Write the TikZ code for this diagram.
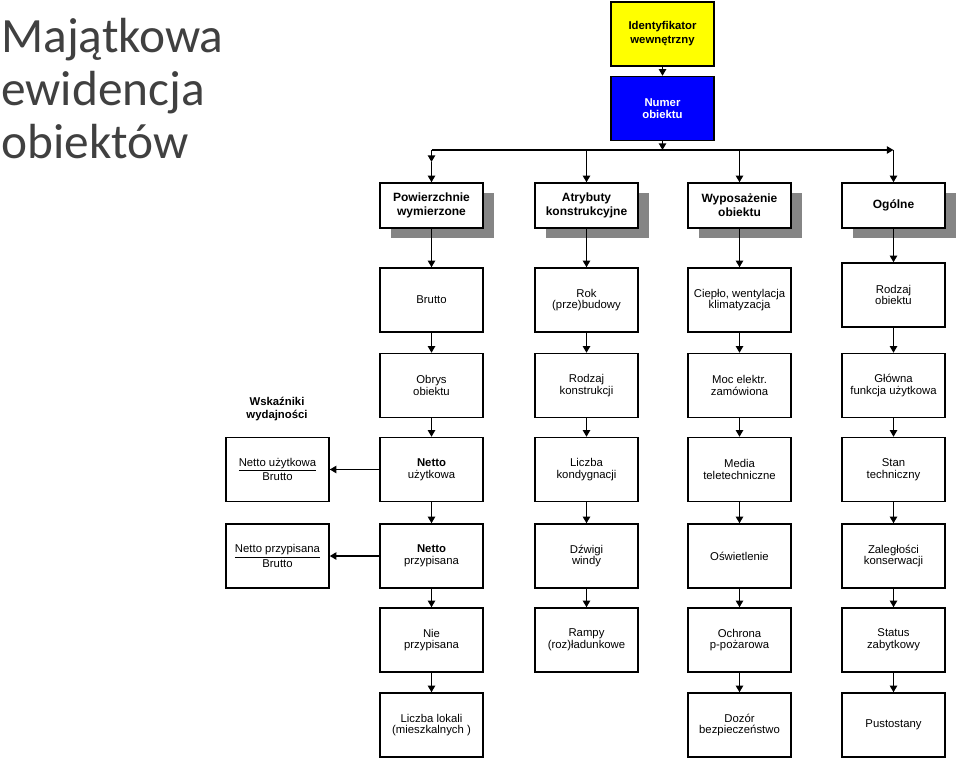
\documentclass[tikz,border=0pt]{standalone}
\usepackage{fontspec}
\setmainfont{Liberation Sans}
\newfontfamily\titlefont{Carlito}
\usetikzlibrary{arrows.meta,shadows}
\definecolor{ttl}{HTML}{404040}
\definecolor{shd}{HTML}{858585}
\definecolor{yel}{HTML}{FFFF00}
\definecolor{blu}{HTML}{0000FF}
\begin{document}
\begin{tikzpicture}[x=0.75pt,y=-0.75pt,
 box/.style={draw=black, line width=1.1pt, fill=white, minimum width=77.25pt, minimum height=48pt, align=center, inner sep=1pt, font=\fontsize{8.5}{8.8}\selectfont},
 head/.style={box, minimum height=33.75pt, font=\bfseries\fontsize{9}{10.5}\selectfont, drop shadow={shadow xshift=8.25pt, shadow yshift=-7.5pt, fill=shd, opacity=1}},
 arr/.style={line width=1.1pt, -{Triangle[length=5pt,width=5.5pt]}},
 ttlnode/.style={anchor=base west, inner sep=0pt, text=ttl, font=\titlefont\fontsize{37}{40}\selectfont}]
\useasboundingbox (0,0) rectangle (960,760);

% title
\node[ttlnode] (t1) at (1,52) {Majątkowa};
\node[ttlnode] (t2) at (1,105) {ewidencja};
\node[ttlnode] (t3) at (1,158) {obiektów};

% top
\node[box, fill=yel, font=\bfseries\fontsize{8.5}{10.5}\selectfont] (idw) at (662.5,34) {Identyfikator\\wewnętrzny};
\node[box, fill=blu, text=white, font=\bfseries\fontsize{8.5}{9.5}\selectfont] (num) at (662.5,108.5) {Numer\\obiektu};

% headers
\node[head] (h1) at (431.5,205.5) {Powierzchnie\\wymierzone};
\node[head] (h2) at (586.5,205.5) {Atrybuty\\konstrukcyjne};
\node[head] (h3) at (739.5,205.5) {Wyposażenie\\obiektu};
\node[head] (h4) at (893.5,205.5) {Ogólne};

% column 1
\node[box] (a1) at (431.5,300) {Brutto};
\node[box] (a2) at (431.5,385.5) {Obrys\\obiektu};
\node[box] (a3) at (431.5,469.5) {\textbf{Netto}\\użytkowa};
\node[box] (a4) at (431.5,556) {\textbf{Netto}\\przypisana};
\node[box] (a5) at (431.5,640) {Nie\\przypisana};
\node[box] (a6) at (431.5,725) {Liczba lokali\\(mieszkalnych )};

% column 2
\node[box] (b1) at (586.5,300) {Rok\\(prze)budowy};
\node[box] (b2) at (586.5,385.5) {Rodzaj\\konstrukcji};
\node[box] (b3) at (586.5,469.5) {Liczba\\kondygnacji};
\node[box] (b4) at (586.5,556) {Dźwigi\\windy};
\node[box] (b5) at (586.5,640) {Rampy\\(roz)ładunkowe};

% column 3
\node[box] (c1) at (739.5,300) {Ciepło, wentylacja\\klimatyzacja};
\node[box] (c2) at (739.5,385.5) {Moc elektr.\\zamówiona};
\node[box] (c3) at (739.5,469.5) {Media\\teletechniczne};
\node[box] (c4) at (739.5,556) {Oświetlenie};
\node[box] (c5) at (739.5,640) {Ochrona\\p-pożarowa};
\node[box] (c6) at (739.5,725) {Dozór\\bezpieczeństwo};

% column 4
\node[box] (d1) at (893.5,295) {Rodzaj\\obiektu};
\node[box] (d2) at (893.5,385.5) {Główna\\funkcja użytkowa};
\node[box] (d3) at (893.5,469.5) {Stan\\techniczny};
\node[box] (d4) at (893.5,556) {Zaległości\\konserwacji};
\node[box] (d5) at (893.5,640) {Status\\zabytkowy};
\node[box] (d6) at (893.5,725) {Pustostany};

% indicators
\node[align=center, inner sep=0pt, font=\bfseries\fontsize{8.5}{9.5}\selectfont] (wsk) at (277,409) {Wskaźniki\\wydajności};
\node[box] (w1) at (277.5,469.5) {\underline{Netto użytkowa}\\Brutto};
\node[box] (w2) at (277.5,556) {\underline{Netto przypisana}\\Brutto};

% connectors top
\coordinate (busL) at (431.5,150);
\coordinate (busR) at (893.5,150);
\coordinate (busM) at (662.5,150);
\coordinate (c1mid) at (431.5,162);
\draw[arr] (idw) -- (num);
\draw[arr] (num) -- (busM);
\draw[arr] (busL) -- (busR);
\draw[arr] (busL) -- (c1mid);
\draw[arr] (c1mid) -- (h1);
\draw[arr] (h2.north |- busL) -- (h2);
\draw[arr] (h3.north |- busL) -- (h3);
\draw[arr] (busR) -- (h4);

% columns
\foreach \p/\q in {h1/a1,a1/a2,a2/a3,a3/a4,a4/a5,a5/a6,
                   h2/b1,b1/b2,b2/b3,b3/b4,b4/b5,
                   h3/c1,c1/c2,c2/c3,c3/c4,c4/c5,c5/c6,
                   h4/d1,d1/d2,d2/d3,d3/d4,d4/d5,d5/d6}
  \draw[arr] (\p) -- (\q);
\draw[arr] (a3) -- (w1);
\draw[arr] (a4) -- (w2);
\end{tikzpicture}
\end{document}
